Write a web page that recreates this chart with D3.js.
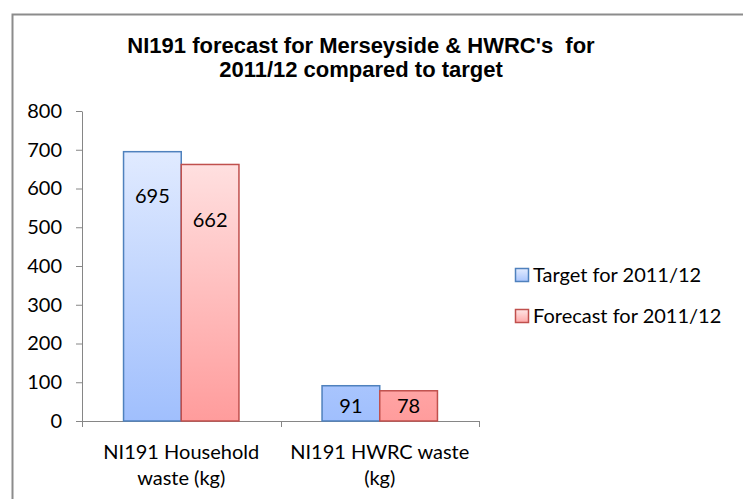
<!DOCTYPE html>
<html>
<head>
<meta charset="utf-8">
<script src="https://cdn.jsdelivr.net/npm/d3@7"></script>
<style>
  body { margin: 0; background: #fff; }
  svg { display: block; }
</style>
</head>
<body>
<div id="chart"></div>
<script>
// Data
const categories = ["NI191 Household waste (kg)", "NI191 HWRC waste (kg)"];
const categoryLines = [["NI191 Household", "waste (kg)"], ["NI191 HWRC waste", "(kg)"]];
const seriesNames = ["Target for 2011/12", "Forecast for 2011/12"];
const targetValues = [695, 91];
const forecastValues = [662, 78];
// where each data label sits, in value units (labels were placed by hand in the original)
const targetLabelAt = [580, 40];
const forecastLabelAt = [518, 40];
const yTicks = [0, 100, 200, 300, 400, 500, 600, 700, 800];
const titleLines = ["NI191 forecast for Merseyside & HWRC's  for", "2011/12 compared to target"];

const W = 743, H = 499;
const plot = { left: 82, right: 479, top: 111, bottom: 421 };

const svg = d3.select("#chart").append("svg")
    .attr("width", W)
    .attr("height", H);

// gradients for the bars
const defs = svg.append("defs");
const grads = [
  { id: "gBlue", top: "#e3ecff", bottom: "#a0bffd" },
  { id: "gRed", top: "#ffe6e6", bottom: "#ff9c9c" }
];
grads.forEach(g => {
  const lg = defs.append("linearGradient")
      .attr("id", g.id)
      .attr("gradientUnits", "userSpaceOnUse")
      .attr("x1", 0).attr("x2", 0)
      .attr("y1", plot.top + 30).attr("y2", plot.bottom);
  lg.append("stop").attr("offset", "0%").attr("stop-color", g.top);
  lg.append("stop").attr("offset", "100%").attr("stop-color", g.bottom);
});
const legGrads = [
  { id: "lBlue", top: "#e3ecff", bottom: "#a9c5fd" },
  { id: "lRed", top: "#ffe6e6", bottom: "#ffa8a8" }
];
legGrads.forEach(g => {
  const lg = defs.append("linearGradient")
      .attr("id", g.id)
      .attr("x1", 0).attr("x2", 0).attr("y1", 0).attr("y2", 1);
  lg.append("stop").attr("offset", "0%").attr("stop-color", g.top);
  lg.append("stop").attr("offset", "100%").attr("stop-color", g.bottom);
});

const fills = ["url(#gBlue)", "url(#gRed)"];
const strokes = ["#4f81bd", "#c0504d"];

// chart frame (runs off the right and bottom of the picture)
svg.append("path")
    .attr("d", `M12.5,${H + 5} V14.5 H${W + 5}`)
    .attr("fill", "none")
    .attr("stroke", "#8c8c8c")
    .attr("stroke-width", 2);

// title
svg.append("text")
    .attr("x", 361)
    .attr("y", 53)
    .attr("text-anchor", "middle")
    .style("font-family", "Liberation Sans, Arial, sans-serif")
    .style("font-weight", "bold")
    .style("font-size", "22px")
    .style("white-space", "pre")
    .selectAll("tspan")
    .data(titleLines)
    .enter().append("tspan")
    .attr("x", 361)
    .attr("dy", (d, i) => i === 0 ? 0 : 24)
    .text(d => d);

// scales
const x0 = d3.scaleBand()
    .domain(categories)
    .range([plot.left, plot.right])
    .padding(0);

const x1 = d3.scaleBand()
    .domain(seriesNames)
    .range([0, x0.bandwidth()])
    .paddingInner(0)
    .paddingOuter(0.72);

const y = d3.scaleLinear()
    .domain([0, 800])
    .range([plot.bottom, plot.top]);

const labelFont = "Lato, 'Open Sans', sans-serif";
const labelSize = "20px";

// y axis
const yAxis = svg.append("g")
    .attr("transform", `translate(${plot.left},0)`)
    .call(d3.axisLeft(y).tickValues(yTicks).tickSize(6).tickPadding(14).tickSizeOuter(0));
yAxis.select(".domain").attr("stroke", "#868686");
yAxis.selectAll(".tick line").attr("stroke", "#868686");
yAxis.selectAll(".tick text")
    .attr("fill", "#000")
    .style("font-family", labelFont)
    .style("font-size", labelSize);

// x axis
const xAxis = svg.append("g")
    .attr("transform", `translate(0,${plot.bottom})`)
    .call(d3.axisBottom(x0).tickSize(0).tickFormat(""));
xAxis.select(".domain").attr("stroke", "#868686");
// category boundary tick marks
const bounds = [plot.left, x0(categories[1]), plot.right];
svg.selectAll(".xtick")
    .data(bounds)
    .enter().append("line")
    .attr("x1", d => Math.round(d) + 0.5)
    .attr("x2", d => Math.round(d) + 0.5)
    .attr("y1", plot.bottom)
    .attr("y2", plot.bottom + 6)
    .attr("stroke", "#868686");

// category labels
categories.forEach((c, i) => {
  svg.append("text")
      .attr("x", x0(c) + x0.bandwidth() / 2)
      .attr("y", 459)
      .attr("text-anchor", "middle")
      .style("font-family", labelFont)
      .style("font-size", labelSize)
      .selectAll("tspan")
      .data(categoryLines[i])
      .enter().append("tspan")
      .attr("x", x0(c) + x0.bandwidth() / 2)
      .attr("dy", (d, j) => j === 0 ? 0 : 26)
      .text(d => d);
});

// bars
const series = [
  { name: seriesNames[0], values: targetValues, labelAt: targetLabelAt },
  { name: seriesNames[1], values: forecastValues, labelAt: forecastLabelAt }
];

series.forEach((s, si) => {
  const g = svg.append("g");
  g.selectAll("rect")
      .data(categories)
      .enter().append("rect")
      .attr("x", c => x0(c) + x1(s.name))
      .attr("y", (c, i) => y(s.values[i]))
      .attr("width", x1.bandwidth())
      .attr("height", (c, i) => y(0) - y(s.values[i]))
      .attr("fill", fills[si])
      .attr("stroke", strokes[si])
      .attr("stroke-width", 1.5);

  g.selectAll("text")
      .data(categories)
      .enter().append("text")
      .attr("x", c => x0(c) + x1(s.name) + x1.bandwidth() / 2)
      .attr("y", (c, i) => y(s.labelAt[i]))
      .attr("dy", "0.35em")
      .attr("text-anchor", "middle")
      .style("font-family", labelFont)
      .style("font-size", labelSize)
      .text((c, i) => s.values[i]);
});

// legend
const legend = svg.append("g")
    .attr("transform", "translate(515,0)");
const legendY = [275, 316];
seriesNames.forEach((n, i) => {
  legend.append("rect")
      .attr("x", 0.5)
      .attr("y", legendY[i] - 6.5)
      .attr("width", 13)
      .attr("height", 13)
      .attr("fill", i === 0 ? "url(#lBlue)" : "url(#lRed)")
      .attr("stroke", strokes[i])
      .attr("stroke-width", 1.5);
  legend.append("text")
      .attr("x", 18)
      .attr("y", legendY[i])
      .attr("dy", "0.35em")
      .style("font-family", labelFont)
      .style("font-size", labelSize)
      .text(n);
});
</script>
</body>
</html>
